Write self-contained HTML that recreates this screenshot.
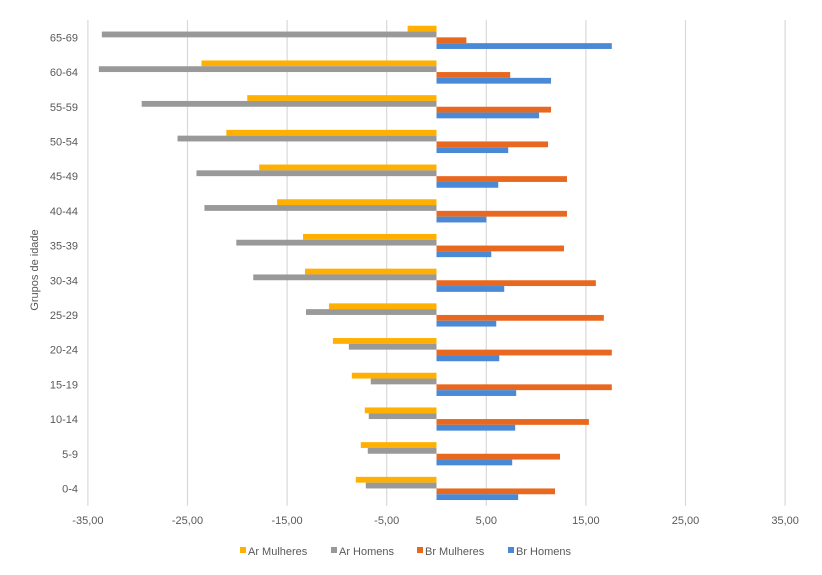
<!DOCTYPE html>
<html><head><meta charset="utf-8"><style>
body{margin:0;background:#fff;font-family:"Liberation Sans",sans-serif}
svg text{font-family:"Liberation Sans",sans-serif;fill:#595959}
</style></head><body>
<svg width="822" height="570">
<g id="grid"></g><g id="bars"></g><g id="labels"></g>
<text x="38" y="270" font-size="11" text-anchor="middle" transform="rotate(-90 38 270)">Grupos de idade</text>
<g id="legend"></g>
</svg>
<script>
const categories=["65-69","60-64","55-59","50-54","45-49","40-44","35-39","30-34","25-29","20-24","15-19","10-14","5-9","0-4"];
const arMulheres=[-2.9,-23.6,-19.0,-21.1,-17.8,-16.0,-13.4,-13.2,-10.8,-10.4,-8.5,-7.2,-7.6,-8.1];
const arHomens=[-33.6,-33.9,-29.6,-26.0,-24.1,-23.3,-20.1,-18.4,-13.1,-8.8,-6.6,-6.8,-6.9,-7.1];
const brMulheres=[3.0,7.4,11.5,11.2,13.1,13.1,12.8,16.0,16.8,17.6,17.6,15.3,12.4,11.9];
const brHomens=[17.6,11.5,10.3,7.2,6.2,5.0,5.5,6.8,6.0,6.3,8.0,7.9,7.6,8.2];
const ticks=[-35,-25,-15,-5,5,15,25,35];
const tickLabels=["-35,00","-25,00","-15,00","-5,00","5,00","15,00","25,00","35,00"];
const series=[arMulheres,arHomens,brMulheres,brHomens];
const names=["Ar Mulheres","Ar Homens","Br Mulheres","Br Homens"];
const colors=["#ffb000","#999999","#e8681f","#4a89d6"];
const NS="http://www.w3.org/2000/svg";
const X=v=>436.5+v*9.96;
const plotTop=20,band=34.7,barH=5.8;
function mk(t,a,p){const e=document.createElementNS(NS,t);for(const k in a)e.setAttribute(k,a[k]);p.appendChild(e);return e;}
const g=document.getElementById('grid'),b=document.getElementById('bars'),l=document.getElementById('labels'),lg=document.getElementById('legend');
ticks.forEach((t,i)=>{
 const ln=mk('line',{x1:X(t),x2:X(t),y1:plotTop,y2:plotTop+band*categories.length,stroke:'#d9d9d9','stroke-width':1.2},g);
 
 
 const tx=mk('text',{x:X(t),y:524,'font-size':11,'text-anchor':'middle'},l);tx.textContent=tickLabels[i];
 
 
});
categories.forEach((c,i)=>{
 const y0=plotTop+i*band+band/2-barH*2;
 series.forEach((s,j)=>{
  const v=s[i];const x0=Math.min(X(0),X(v));
  const r=mk('rect',{x:x0,y:y0+j*barH,width:Math.abs(X(v)-X(0)),height:barH,fill:colors[j]},b);
  
  
 });
 const tx=mk('text',{x:78,y:plotTop+i*band+band/2+4,'font-size':11,'text-anchor':'end'},l);tx.textContent=c;
 
 
});
const lx=[240,331,417,508];
names.forEach((n,j)=>{
 const r=mk('rect',{x:lx[j],y:547,width:6,height:6,fill:colors[j]},lg);
 
 
 const t=mk('text',{x:lx[j]+8,y:555,'font-size':11},lg);t.textContent=n;
 
 
});
</script>
</body></html>
